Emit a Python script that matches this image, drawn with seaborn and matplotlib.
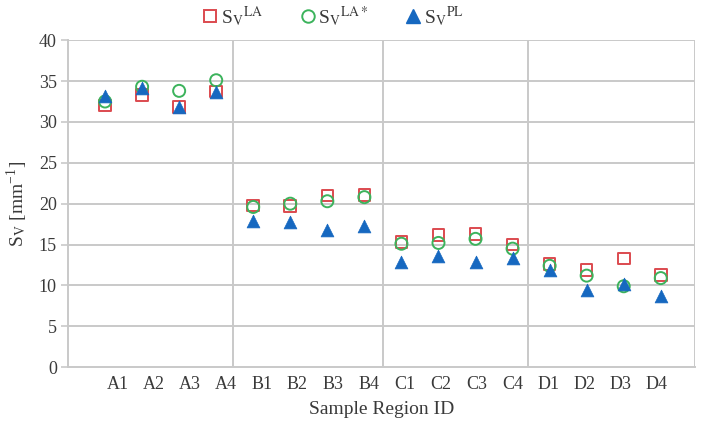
import matplotlib
matplotlib.use("Agg")
import matplotlib.pyplot as plt
import seaborn as sns
import pandas as pd
import numpy as np
from matplotlib.lines import Line2D

regions = ["A1", "A2", "A3", "A4", "B1", "B2", "B3", "B4",
           "C1", "C2", "C3", "C4", "D1", "D2", "D3", "D4"]
sv_la = [32.0, 33.3, 31.8, 33.7, 19.8, 19.7, 21.0, 21.1,
         15.3, 16.2, 16.3, 15.0, 12.6, 11.9, 13.3, 11.3]
sv_la_star = [32.5, 34.3, 33.8, 35.1, 19.6, 20.0, 20.3, 20.8,
              15.1, 15.2, 15.7, 14.5, 12.4, 11.2, 9.9, 10.9]
sv_pl = [33.2, 34.2, 31.8, 33.6, 17.9, 17.7, 16.8, 17.3,
         12.9, 13.6, 12.9, 13.4, 11.9, 9.4, 10.2, 8.7]
y_ticks = [0, 5, 10, 15, 20, 25, 30, 35, 40]

sns.set_theme(style="white")
plt.rcParams["font.family"] = ["Liberation Serif", "DejaVu Serif"]
plt.rcParams["mathtext.fontset"] = "stix"

df = pd.DataFrame({
    "pos": np.arange(1, len(regions) + 1),
    "region": regions,
    "LA": sv_la,
    "LAstar": sv_la_star,
    "PL": sv_pl,
})

red = "#dc4a4f"
green = "#3cb35c"
blue = "#1668c0"
grid_c = "#c9c9c9"
txt_c = "#3a3a3a"

fig = plt.figure(figsize=(7.04, 4.32), dpi=100)
ax = fig.add_axes([0.0966, 0.150, 0.8904, 0.757])

for yv in y_ticks[1:]:
    ax.axhline(yv, color=grid_c, lw=1.4, zorder=0)
for xv in [4.45, 8.5, 12.42, 16.92]:
    ax.axvline(xv, color=grid_c, lw=1.4, zorder=0)

sns.scatterplot(data=df, x="pos", y="LA", ax=ax, marker="s", s=70,
                facecolors="none", edgecolor=red, linewidth=1.4, zorder=3)
sns.scatterplot(data=df, x="pos", y="LAstar", ax=ax, marker="o", s=75,
                facecolors="none", edgecolor=green, linewidth=1.4, zorder=4)
sns.scatterplot(data=df, x="pos", y="PL", ax=ax, marker="^", s=85,
                color=blue, edgecolor=blue, linewidth=0.5, zorder=5)

ax.set_xlim(0, 16.92)
ax.set_ylim(0, 40)
ax.set_yticks(y_ticks)
ax.set_yticklabels([str(v) for v in y_ticks], fontsize=13)
label_pos = 1.35 + np.arange(len(regions)) * 0.969
ax.set_xticks(label_pos)
ax.set_xticklabels(regions, fontsize=13)
ax.tick_params(axis="x", length=0, pad=6, colors=txt_c)
ax.tick_params(axis="y", length=5, width=1.2, color=grid_c, pad=3, colors=txt_c)
ax.tick_params(axis="y", which="both", left=True)
for lbl in ax.get_yticklabels():
    lbl.set_color(txt_c)

for side in ["top", "right"]:
    ax.spines[side].set_visible(False)
for side in ["left", "bottom"]:
    ax.spines[side].set_color(grid_c)
    ax.spines[side].set_linewidth(1.4)

ax.set_xlabel("Sample Region ID", fontsize=14, color=txt_c, labelpad=6)
ax.set_ylabel(r"S$_\mathrm{V}$ [mm$^{\mathregular{-1}}$]", fontsize=14, color=txt_c, labelpad=6)

handles = [
    Line2D([], [], marker="s", ls="none", markersize=9, markerfacecolor="none",
           markeredgecolor=red, markeredgewidth=1.4),
    Line2D([], [], marker="o", ls="none", markersize=9, markerfacecolor="none",
           markeredgecolor=green, markeredgewidth=1.4),
    Line2D([], [], marker="^", ls="none", markersize=10, color=blue),
]
labels = [r"S$_\mathrm{V}$$^\mathrm{LA}$", r"S$_\mathrm{V}$$^\mathrm{LA*}$",
          r"S$_\mathrm{V}$$^\mathrm{PL}$"]
fig.legend(handles, labels, loc="center", bbox_to_anchor=(0.472, 0.962), ncol=3,
           frameon=False, fontsize=14, handletextpad=0.05, columnspacing=1.8,
           handlelength=1.0, labelcolor=txt_c)

fig.savefig("out.png", dpi=100)
